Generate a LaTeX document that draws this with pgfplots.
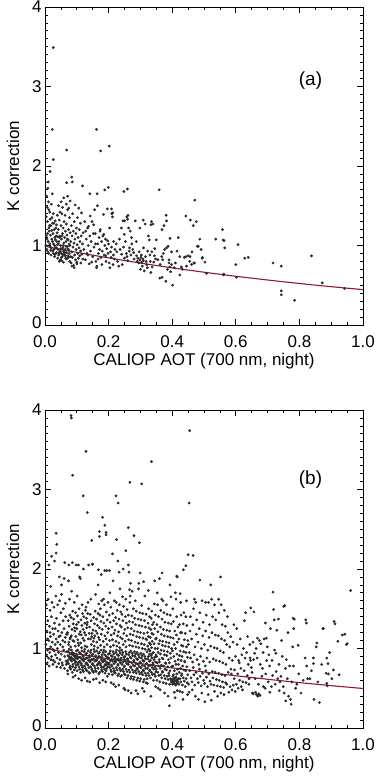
\documentclass[border=0pt]{standalone}
\usepackage{fontspec}
\setmainfont{Liberation Sans}
\usepackage{pgfplots}
\pgfplotsset{compat=1.18}

\definecolor{dots}{HTML}{2B2B2B}
\definecolor{fitred}{HTML}{8C1C2C}

\pgfplotsset{kplot/.style={
  scale only axis, width=318pt, height=318pt,
  xmin=0, xmax=1, ymin=0, ymax=4,
  xtick={0,0.2,0.4,0.6,0.8,1}, ytick={0,1,2,3,4},
  yticklabels={\raisebox{5pt}{0},1,2,3,\raisebox{-4pt}{4}},
  minor x tick num=3, minor y tick num=9,
  tick align=inside, major tick length=6pt, minor tick length=3pt,
  /pgf/number format/assume math mode=true,
  tick label style={font=\fontsize{17}{17}\selectfont},
  xticklabel style={anchor=center, yshift=-17pt, /pgf/number format/fixed, /pgf/number format/fixed zerofill, /pgf/number format/precision=1},
  every axis x label/.style={at={(axis description cs:0.5,0)}, yshift=-36pt, anchor=center, font=\fontsize{17}{17}\selectfont},
  every axis y label/.style={at={(axis description cs:0,0.5)}, xshift=-32pt, rotate=90, anchor=center, font=\fontsize{17}{17}\selectfont},
  xlabel={CALIOP AOT (700 nm, night)}, ylabel={K correction},
  axis line style={line width=0.8pt},
  every tick/.style={line width=0.7pt, black},
}}
\pgfplotsset{dotstyle/.style={only marks, mark=*, mark size=1.2pt, mark options={draw=dots, fill=dots}}}

\begin{document}
\begin{tikzpicture}
\useasboundingbox (0,0) rectangle (382pt,780pt);

% ---------- panel (a) ----------
\begin{axis}[kplot, at={(45pt,455pt)}, anchor=south west]
\addplot[dotstyle] coordinates {
(0.026,3.49)(0.023,2.46)(0.026,2.08)(0.068,2.20)(0.162,2.46)(0.175,2.19)(0.202,2.25)(0.010,1.80)(0.016,1.93)(0.084,1.86)(0.086,1.80)(0.068,1.79)(0.118,1.75)(0.141,1.65)(0.164,1.65)(0.188,1.70)(0.199,1.73)(0.248,1.68)(0.259,1.71)(0.359,1.70)(0.471,1.57)(0.209,1.46)(0.213,1.41)(0.261,1.38)(0.260,1.33)(0.250,1.31)(0.309,1.32)(0.335,1.30)(0.333,1.26)(0.382,1.31)(0.381,1.38)(0.374,1.25)(0.368,1.20)(0.298,1.22)(0.393,1.09)(0.419,1.10)(0.443,1.37)(0.457,1.32)(0.466,1.25)(0.476,1.30)(0.487,1.08)(0.482,0.99)(0.494,0.84)(0.450,0.87)(0.443,0.86)(0.424,0.86)(0.429,0.73)(0.424,0.63)(0.406,0.72)(0.398,0.76)(0.393,0.73)(0.390,0.78)(0.401,0.50)(0.380,0.55)(0.361,0.59)(0.382,0.97)(0.387,0.99)(0.398,0.92)(0.367,0.86)(0.370,0.82)(0.508,0.65)(0.537,1.08)(0.558,1.20)(0.560,1.07)(0.565,0.97)(0.562,0.64)(0.600,0.76)(0.602,0.60)(0.607,1.01)(0.628,0.84)(0.639,0.85)(0.717,0.78)(0.743,0.74)(0.743,0.43)(0.743,0.38)(0.785,0.31)(0.838,0.87)(0.872,0.53)(0.942,0.46)
(0.479,0.99)(0.491,0.95)(0.456,0.86)(0.495,0.85)(0.503,0.79)(0.461,0.76)(0.468,0.78)(0.561,0.63)(0.563,1.06)
(0.004,1.12)(0.006,0.95)(0.008,1.30)(0.010,1.05)(0.012,0.90)(0.013,1.18)(0.015,1.42)(0.016,0.98)(0.018,1.25)(0.019,0.88)(0.021,1.08)(0.022,1.35)(0.024,0.93)(0.025,1.15)(0.027,1.02)(0.028,1.28)(0.030,0.86)(0.031,1.10)(0.033,0.97)(0.034,1.22)(0.036,0.91)(0.037,1.05)(0.039,1.38)(0.040,0.84)
(0.005,1.62)(0.007,1.48)(0.009,1.72)(0.011,1.55)(0.014,1.25)(0.017,1.13)(0.020,1.52)(0.023,1.65)(0.026,1.40)(0.029,1.20)(0.032,1.31)(0.035,1.12)(0.038,1.16)
(0.003,1.00)(0.006,1.08)(0.009,0.92)(0.012,1.22)(0.015,1.02)(0.018,0.94)(0.021,1.19)(0.024,1.05)(0.027,0.90)(0.030,1.00)(0.033,1.07)(0.036,0.97)(0.039,1.01)
(0.004,1.36)(0.008,1.15)(0.012,1.45)(0.016,1.33)(0.020,0.97)(0.024,1.28)(0.028,0.95)(0.032,0.89)(0.036,1.26)(0.040,1.11)
(0.041,0.95)(0.042,1.20)(0.043,0.88)(0.044,1.05)(0.045,1.32)(0.046,0.92)(0.047,1.12)(0.048,0.82)(0.049,1.00)(0.050,1.25)(0.051,0.90)(0.052,1.08)(0.053,1.40)(0.054,0.86)(0.055,1.15)(0.056,0.97)(0.057,1.22)(0.058,0.93)(0.059,1.03)(0.060,1.30)(0.061,0.88)(0.062,1.10)(0.063,0.95)(0.064,1.18)(0.065,0.84)(0.066,1.05)(0.067,1.27)(0.068,0.91)(0.069,1.13)(0.070,0.99)(0.071,1.45)(0.072,0.87)(0.073,1.07)(0.074,1.20)(0.075,0.94)(0.076,1.02)(0.077,1.35)(0.078,0.80)(0.079,1.16)
(0.043,1.50)(0.047,1.42)(0.051,1.55)(0.055,1.48)(0.059,1.60)(0.063,1.38)(0.067,1.52)(0.071,1.62)(0.075,1.47)(0.079,1.56)
(0.042,1.02)(0.046,1.10)(0.050,0.96)(0.054,1.12)(0.058,1.00)(0.062,0.91)(0.066,0.99)(0.070,1.08)(0.074,0.85)(0.078,1.00)
(0.044,0.90)(0.048,0.93)(0.052,0.85)(0.056,0.89)(0.060,0.92)(0.064,0.87)(0.068,0.83)(0.072,0.96)(0.076,0.90)(0.080,0.86)
(0.081,1.05)(0.082,0.78)(0.083,1.25)(0.084,0.92)(0.085,1.12)(0.086,0.85)(0.087,1.40)(0.088,0.98)(0.089,1.18)(0.090,0.75)(0.091,1.03)(0.092,1.30)(0.093,0.88)(0.094,1.08)(0.095,1.51)(0.096,0.82)(0.097,1.15)(0.098,0.95)(0.099,1.22)(0.100,0.79)(0.101,1.01)(0.102,1.35)(0.103,0.90)(0.104,1.10)(0.105,0.84)(0.106,1.47)(0.107,0.97)(0.108,1.20)(0.109,0.87)(0.110,1.05)(0.111,1.28)(0.112,0.93)(0.113,0.78)(0.114,1.12)(0.115,1.41)(0.116,0.89)(0.118,1.02)(0.119,0.83)(0.120,1.16)
(0.045,0.80)(0.052,0.81)(0.058,0.79)(0.085,0.74)(0.092,0.72)(0.100,0.77)
(0.122,0.95)(0.125,1.30)(0.127,0.82)(0.130,1.08)(0.132,0.90)(0.134,1.22)(0.136,1.00)(0.137,1.24)(0.139,0.77)(0.141,1.12)(0.143,0.93)(0.145,1.05)(0.148,1.30)(0.150,0.86)(0.152,1.15)(0.154,0.98)(0.156,1.45)(0.158,1.15)(0.160,0.80)(0.162,0.72)(0.163,0.74)(0.165,1.50)(0.166,1.02)(0.168,0.90)(0.170,1.10)(0.172,0.95)(0.174,1.20)(0.176,0.85)(0.178,1.05)(0.180,0.93)(0.182,1.12)(0.184,1.39)(0.186,0.88)(0.188,1.00)(0.190,1.08)(0.192,0.80)(0.194,0.96)(0.196,1.46)(0.198,0.90)(0.200,1.02)(0.202,0.78)(0.204,0.72)(0.206,0.92)(0.208,0.85)(0.210,1.40)(0.212,1.36)(0.214,0.76)(0.216,1.05)(0.218,0.83)(0.220,0.95)
(0.128,1.18)(0.135,0.88)(0.142,1.37)(0.147,0.79)(0.153,1.26)(0.159,1.02)(0.167,0.83)(0.173,1.18)(0.179,0.76)(0.185,1.14)(0.191,0.87)(0.197,1.06)(0.203,1.22)(0.209,0.98)(0.215,0.88)
(0.224,1.02)(0.228,0.80)(0.232,0.74)(0.236,0.95)(0.240,1.22)(0.243,0.76)(0.245,1.31)(0.247,0.98)(0.250,0.84)(0.253,1.05)(0.256,0.90)(0.257,1.36)(0.260,0.81)(0.263,1.22)(0.266,0.97)(0.268,1.18)(0.270,0.88)(0.273,1.02)(0.276,0.95)(0.280,0.83)(0.284,1.31)(0.287,1.05)(0.290,0.80)(0.292,0.84)(0.295,0.78)(0.298,0.82)(0.300,0.70)(0.302,0.85)(0.304,0.79)(0.306,0.74)(0.308,0.83)(0.310,0.97)(0.312,0.68)(0.315,1.27)(0.318,0.80)(0.320,0.76)(0.322,0.72)(0.325,1.12)(0.328,1.07)(0.330,0.88)(0.333,0.66)(0.336,0.92)(0.339,1.27)(0.342,0.79)(0.345,0.96)(0.348,0.83)(0.350,1.07)
(0.226,0.92)(0.234,1.08)(0.241,0.89)(0.249,1.14)(0.258,0.86)(0.265,0.93)(0.272,1.10)(0.279,0.91)(0.288,0.87)(0.296,0.92)(0.303,0.88)(0.309,0.81)(0.316,0.86)(0.323,0.93)(0.331,0.80)(0.337,0.73)(0.344,0.87)
(0.355,0.82)(0.362,0.76)(0.368,0.60)(0.372,0.90)(0.376,0.95)(0.385,0.70)(0.390,0.82)(0.395,0.67)(0.410,0.78)(0.415,0.93)(0.432,0.70)(0.438,0.85)(0.445,0.74)(0.455,0.80)(0.462,0.92)(0.470,0.78)
};
\addplot[fitred, line width=1.1pt, smooth] coordinates {
(0,0.99)(0.1,0.914)(0.2,0.844)(0.3,0.779)(0.4,0.719)(0.5,0.664)(0.6,0.613)(0.7,0.566)(0.8,0.522)(0.9,0.482)(1.0,0.445)
};
\node[font=\fontsize{19}{19}\selectfont] at (axis cs:0.835,3.08) {(a)};
\end{axis}

% ---------- panel (b) ----------
\begin{axis}[kplot, at={(45pt,52pt)}, anchor=south west]
\addplot[dotstyle] coordinates {
(0.082,3.93)(0.083,3.90)(0.129,3.48)(0.087,3.18)(0.120,2.92)(0.133,2.71)(0.335,3.35)(0.455,3.74)(0.267,3.09)(0.304,3.07)(0.223,2.92)(0.230,2.83)(0.453,2.83)(0.181,2.65)(0.188,2.55)(0.192,2.46)(0.192,2.43)(0.171,2.47)(0.171,2.41)(0.147,2.36)(0.225,2.37)(0.262,2.52)(0.280,2.42)(0.297,2.33)(0.254,2.23)(0.212,2.19)(0.450,2.18)(0.466,2.17)(0.443,2.04)(0.414,1.91)(0.035,2.45)(0.037,2.31)(0.035,2.20)(0.021,2.16)(0.487,1.86)(0.521,1.80)(0.552,1.90)(0.961,1.73)(0.717,1.71)(0.751,1.53)(0.820,1.36)(0.822,1.32)(0.874,1.25)(0.935,1.17)(0.950,1.06)(0.921,1.09)(0.780,1.38)(0.782,1.25)
(0.003,1.05)(0.005,0.92)(0.006,1.22)(0.008,0.98)(0.009,1.35)(0.011,0.88)(0.012,1.10)(0.014,1.28)(0.015,0.95)(0.017,1.15)(0.018,1.02)(0.020,1.40)(0.021,0.90)(0.023,1.08)(0.024,1.25)(0.026,0.85)(0.027,1.18)(0.029,0.97)(0.030,1.32)(0.032,1.05)(0.033,0.92)(0.035,1.12)(0.036,1.38)(0.038,0.88)(0.039,1.00)(0.041,1.22)(0.042,0.95)(0.044,1.15)(0.045,1.30)(0.047,0.86)(0.048,1.05)(0.050,1.45)(0.051,0.93)(0.053,1.20)(0.054,0.82)(0.056,1.10)(0.057,1.35)(0.059,0.98)(0.060,1.25)(0.062,0.90)(0.063,1.08)(0.065,1.40)(0.066,0.84)(0.068,1.18)(0.069,0.96)
(0.004,1.55)(0.010,1.62)(0.016,1.48)(0.022,1.58)(0.028,1.52)(0.034,1.66)(0.040,1.55)(0.046,1.60)(0.052,1.68)(0.058,1.50)(0.064,1.57)
(0.007,0.82)(0.013,0.78)(0.019,0.86)(0.025,0.80)(0.031,0.83)(0.037,0.77)(0.043,0.81)(0.049,0.76)(0.055,0.79)(0.061,0.75)(0.067,0.80)
(0.008,1.12)(0.016,1.20)(0.024,0.99)(0.032,1.25)(0.040,1.08)(0.048,1.16)(0.056,1.02)(0.064,1.14)
(0.012,2.05)(0.030,2.10)(0.045,1.90)(0.060,1.88)(0.018,1.78)(0.052,1.80)
(0.071,0.72)(0.079,0.78)(0.074,0.81)(0.072,0.85)(0.077,0.88)(0.075,0.90)(0.078,0.93)(0.073,0.96)(0.076,0.99)(0.070,0.83)(0.078,0.76)(0.072,0.91)(0.074,1.05)(0.079,1.12)(0.071,1.20)(0.076,1.28)(0.073,1.35)(0.078,1.42)(0.075,1.08)(0.070,1.18)(0.077,1.62)(0.074,1.85)(0.072,0.68)
(0.081,0.74)(0.088,0.80)(0.084,0.84)(0.086,0.87)(0.082,0.89)(0.089,0.92)(0.085,0.95)(0.083,0.98)(0.087,0.77)(0.080,0.86)(0.086,0.70)(0.084,0.93)(0.081,1.02)(0.088,1.10)(0.083,1.16)(0.085,1.24)(0.089,1.31)(0.082,1.39)(0.087,1.47)(0.080,1.14)(0.086,2.08)(0.084,1.72)(0.088,0.64)
(0.092,0.73)(0.098,0.79)(0.095,0.82)(0.091,0.86)(0.097,0.88)(0.094,0.91)(0.090,0.94)(0.099,0.97)(0.093,0.85)(0.096,0.76)(0.092,0.90)(0.098,0.83)(0.095,1.03)(0.091,1.09)(0.097,1.15)(0.094,1.22)(0.099,1.30)(0.090,1.37)(0.096,1.45)(0.093,1.26)(0.098,2.05)(0.092,1.58)(0.095,0.66)
(0.101,0.72)(0.107,0.77)(0.104,0.80)(0.109,0.84)(0.102,0.87)(0.106,0.89)(0.100,0.92)(0.108,0.95)(0.103,0.98)(0.105,0.82)(0.109,0.74)(0.101,0.90)(0.106,1.04)(0.103,1.11)(0.108,1.18)(0.100,1.25)(0.105,1.33)(0.102,1.41)(0.107,1.50)(0.104,1.07)(0.109,1.90)(0.101,1.66)(0.106,0.62)
(0.112,0.70)(0.118,0.76)(0.115,0.79)(0.110,0.83)(0.117,0.86)(0.113,0.88)(0.119,0.91)(0.111,0.94)(0.116,0.97)(0.114,0.81)(0.118,0.73)(0.110,0.89)(0.115,1.01)(0.112,1.07)(0.119,1.13)(0.111,1.21)(0.116,1.29)(0.113,1.36)(0.118,1.44)(0.114,1.17)(0.117,1.55)(0.111,1.88)(0.115,0.60)
(0.121,0.71)(0.127,0.75)(0.124,0.78)(0.129,0.81)(0.122,0.84)(0.126,0.87)(0.120,0.90)(0.128,0.93)(0.123,0.96)(0.125,0.99)(0.129,0.73)(0.121,0.86)(0.126,1.03)(0.123,1.10)(0.128,1.17)(0.120,1.24)(0.125,1.32)(0.122,1.40)(0.127,1.48)(0.124,1.20)(0.129,1.52)(0.121,2.00)(0.126,0.63)
(0.132,0.72)(0.138,0.76)(0.135,0.79)(0.130,0.82)(0.137,0.85)(0.133,0.88)(0.139,0.91)(0.131,0.94)(0.136,0.97)(0.134,0.80)(0.138,0.70)(0.130,0.88)(0.132,1.02)(0.131,1.26)(0.133,1.33)(0.130,1.38)(0.134,1.44)(0.132,1.30)(0.136,1.12)(0.139,1.19)(0.135,1.58)(0.137,2.05)(0.133,0.59)
(0.141,0.69)(0.147,0.74)(0.144,0.77)(0.149,0.80)(0.142,0.83)(0.146,0.86)(0.140,0.89)(0.148,0.92)(0.143,0.95)(0.145,0.98)(0.149,0.72)(0.141,0.85)(0.146,1.05)(0.143,1.12)(0.148,1.19)(0.140,1.27)(0.145,1.35)(0.142,1.43)(0.147,1.15)(0.144,1.62)(0.149,2.06)(0.141,0.58)
(0.152,0.70)(0.158,0.75)(0.155,0.78)(0.150,0.81)(0.157,0.84)(0.153,0.87)(0.159,0.90)(0.151,0.93)(0.156,0.96)(0.154,0.99)(0.158,0.72)(0.150,0.86)(0.155,1.03)(0.152,1.09)(0.157,1.16)(0.151,1.23)(0.156,1.31)(0.153,1.39)(0.158,1.47)(0.154,1.13)(0.159,1.68)(0.152,0.61)
(0.161,0.71)(0.167,0.75)(0.164,0.79)(0.169,0.82)(0.162,0.85)(0.166,0.88)(0.160,0.91)(0.168,0.94)(0.163,0.97)(0.165,0.80)(0.169,0.68)(0.161,0.86)(0.166,1.01)(0.163,1.08)(0.168,1.14)(0.160,1.22)(0.165,1.29)(0.162,1.37)(0.167,1.44)(0.164,1.19)(0.169,1.56)(0.161,0.62)(0.167,1.80)
(0.172,0.70)(0.178,0.76)(0.175,0.79)(0.170,0.83)(0.177,0.86)(0.173,0.89)(0.179,0.92)(0.171,0.95)(0.176,0.98)(0.174,0.81)(0.178,0.73)(0.170,0.90)(0.175,1.04)(0.172,1.11)(0.177,1.18)(0.171,1.26)(0.176,1.34)(0.173,1.42)(0.178,1.60)(0.174,1.50)(0.172,0.57)(0.177,1.93)
(0.181,0.71)(0.187,0.74)(0.184,0.77)(0.189,0.80)(0.182,0.83)(0.186,0.86)(0.180,0.89)(0.188,0.92)(0.183,0.95)(0.185,0.98)(0.189,0.69)(0.181,0.84)(0.186,1.02)(0.183,1.09)(0.188,1.16)(0.180,1.24)(0.185,1.32)(0.182,1.40)(0.187,1.55)(0.184,1.62)(0.188,1.98)(0.182,0.60)
(0.192,0.72)(0.198,0.77)(0.195,0.80)(0.190,0.84)(0.197,0.87)(0.193,0.90)(0.199,0.93)(0.191,0.96)(0.196,0.82)(0.194,0.75)(0.198,0.88)(0.190,0.79)(0.195,1.05)(0.192,1.12)(0.197,1.20)(0.191,1.28)(0.196,1.36)(0.193,1.46)(0.198,1.58)(0.194,1.98)(0.191,0.58)(0.196,0.65)
(0.201,0.68)(0.207,0.73)(0.204,0.76)(0.209,0.79)(0.202,0.82)(0.206,0.85)(0.200,0.88)(0.208,0.91)(0.203,0.94)(0.205,0.97)(0.209,0.71)(0.201,0.80)(0.206,1.02)(0.203,1.10)(0.208,1.17)(0.200,1.25)(0.205,1.33)(0.202,1.42)(0.207,1.52)(0.204,1.70)(0.208,0.57)
(0.212,0.67)(0.218,0.72)(0.215,0.75)(0.210,0.78)(0.217,0.81)(0.213,0.84)(0.219,0.87)(0.211,0.90)(0.216,0.93)(0.214,0.96)(0.218,0.70)(0.210,0.86)(0.215,1.04)(0.212,1.11)(0.217,1.19)(0.211,1.27)(0.216,1.35)(0.213,1.44)(0.218,1.60)(0.214,1.85)(0.216,0.55)
(0.221,0.69)(0.227,0.73)(0.224,0.76)(0.229,0.80)(0.222,0.83)(0.226,0.86)(0.220,0.89)(0.228,0.92)(0.223,0.95)(0.225,0.98)(0.229,0.66)(0.221,0.84)(0.226,1.03)(0.223,1.09)(0.228,1.16)(0.220,1.23)(0.225,1.31)(0.222,1.39)(0.227,1.48)(0.224,1.58)(0.229,2.10)(0.222,0.52)
(0.232,0.68)(0.238,0.72)(0.235,0.75)(0.230,0.79)(0.237,0.82)(0.233,0.85)(0.239,0.88)(0.231,0.91)(0.236,0.94)(0.234,0.97)(0.238,0.65)(0.230,0.87)(0.235,1.01)(0.232,1.07)(0.237,1.14)(0.231,1.21)(0.236,1.29)(0.233,1.37)(0.238,1.46)(0.234,1.55)(0.236,1.75)(0.232,0.54)
(0.241,0.66)(0.247,0.71)(0.244,0.74)(0.249,0.77)(0.242,0.80)(0.246,0.83)(0.240,0.86)(0.248,0.89)(0.243,0.92)(0.245,0.95)(0.249,0.68)(0.241,0.98)(0.246,1.05)(0.243,1.12)(0.248,1.19)(0.240,1.27)(0.245,1.35)(0.242,1.43)(0.247,1.53)(0.244,1.65)(0.248,0.50)(0.246,2.00)
(0.252,0.67)(0.258,0.71)(0.255,0.74)(0.250,0.78)(0.257,0.81)(0.253,0.84)(0.259,0.87)(0.251,0.90)(0.256,0.93)(0.254,0.96)(0.258,0.63)(0.250,0.86)(0.255,1.02)(0.252,1.09)(0.257,1.16)(0.251,1.24)(0.256,1.32)(0.253,1.40)(0.258,1.49)(0.254,1.62)(0.252,0.48)
(0.261,0.66)(0.267,0.70)(0.264,0.73)(0.269,0.77)(0.262,0.80)(0.266,0.83)(0.260,0.86)(0.268,0.89)(0.263,0.92)(0.265,0.95)(0.269,0.62)(0.261,0.84)(0.266,1.04)(0.263,1.11)(0.268,1.18)(0.260,1.26)(0.265,1.34)(0.262,1.42)(0.267,1.58)(0.268,1.66)(0.266,1.74)(0.269,1.82)(0.264,1.96)(0.262,0.47)
(0.272,0.65)(0.278,0.70)(0.275,0.73)(0.270,0.76)(0.277,0.79)(0.273,0.82)(0.279,0.85)(0.271,0.88)(0.276,0.91)(0.274,0.94)(0.278,0.61)(0.270,0.97)(0.275,1.03)(0.272,1.10)(0.277,1.17)(0.271,1.25)(0.276,1.33)(0.273,1.41)(0.278,1.50)(0.274,1.72)(0.271,0.44)
(0.281,0.64)(0.287,0.69)(0.284,0.72)(0.289,0.75)(0.282,0.78)(0.286,0.81)(0.280,0.84)(0.288,0.87)(0.283,0.90)(0.285,0.93)(0.289,0.60)(0.281,0.96)(0.286,1.02)(0.283,1.08)(0.288,1.15)(0.280,1.22)(0.285,1.30)(0.282,1.38)(0.287,1.47)(0.284,1.60)(0.286,0.47)
(0.292,0.63)(0.298,0.68)(0.295,0.71)(0.290,0.74)(0.297,0.77)(0.293,0.80)(0.299,0.83)(0.291,0.86)(0.296,0.89)(0.294,0.92)(0.298,0.59)(0.290,0.95)(0.295,1.01)(0.292,1.07)(0.297,1.14)(0.291,1.21)(0.296,1.29)(0.293,1.37)(0.298,1.45)(0.294,1.75)(0.292,0.43)(0.299,1.95)
(0.301,0.62)(0.307,0.67)(0.304,0.70)(0.309,0.73)(0.302,0.76)(0.306,0.79)(0.300,0.82)(0.308,0.85)(0.303,0.88)(0.305,0.91)(0.309,0.58)(0.301,0.94)(0.306,1.00)(0.303,1.06)(0.308,1.13)(0.300,1.20)(0.305,1.28)(0.302,1.36)(0.307,1.44)(0.304,1.54)(0.306,0.50)
(0.312,0.61)(0.318,0.66)(0.315,0.69)(0.310,0.72)(0.317,0.75)(0.313,0.78)(0.319,0.81)(0.311,0.84)(0.316,0.87)(0.314,0.90)(0.318,0.57)(0.310,0.93)(0.315,0.99)(0.312,1.05)(0.317,1.12)(0.311,1.19)(0.316,1.27)(0.313,1.35)(0.318,1.43)(0.314,1.66)(0.312,0.46)
(0.321,0.62)(0.327,0.66)(0.324,0.69)(0.329,0.72)(0.322,0.75)(0.326,0.78)(0.320,0.81)(0.328,0.84)(0.323,0.87)(0.325,0.90)(0.329,0.93)(0.321,0.96)(0.326,0.99)(0.323,1.03)(0.328,1.07)(0.320,1.11)(0.325,1.15)(0.322,1.20)(0.327,1.26)(0.324,1.32)(0.329,1.40)(0.326,1.50)(0.322,0.56)
(0.332,0.63)(0.338,0.67)(0.335,0.70)(0.330,0.73)(0.337,0.76)(0.333,0.79)(0.339,0.82)(0.331,0.85)(0.336,0.88)(0.334,0.91)(0.338,0.94)(0.330,0.97)(0.335,1.01)(0.332,1.05)(0.337,1.09)(0.331,1.14)(0.336,1.19)(0.333,1.24)(0.338,1.30)(0.334,1.38)(0.336,1.47)(0.333,0.40)
(0.341,0.60)(0.347,0.65)(0.344,0.68)(0.349,0.71)(0.342,0.74)(0.346,0.77)(0.340,0.80)(0.348,0.83)(0.343,0.86)(0.345,0.89)(0.349,0.92)(0.341,0.95)(0.346,1.00)(0.343,1.06)(0.348,1.12)(0.340,1.18)(0.345,1.25)(0.342,1.33)(0.347,1.42)(0.344,1.56)(0.348,0.52)
(0.352,0.60)(0.358,0.66)(0.355,0.70)(0.350,0.74)(0.357,0.78)(0.353,0.82)(0.359,0.86)(0.351,0.90)(0.356,0.95)(0.354,1.00)(0.358,1.06)(0.350,1.13)(0.355,1.21)(0.352,1.30)(0.357,1.40)(0.354,1.55)(0.356,0.50)(0.353,1.70)
(0.361,0.58)(0.367,0.63)(0.364,0.67)(0.369,0.71)(0.362,0.75)(0.366,0.79)(0.360,0.83)(0.368,0.88)(0.363,0.93)(0.365,0.98)(0.369,1.04)(0.361,1.10)(0.366,1.18)(0.363,1.27)(0.368,1.37)(0.364,1.48)(0.362,0.48)(0.367,1.62)
(0.372,0.57)(0.378,0.62)(0.375,0.66)(0.370,0.70)(0.377,0.74)(0.373,0.78)(0.379,0.82)(0.371,0.87)(0.376,0.92)(0.374,0.97)(0.378,1.03)(0.370,1.09)(0.375,1.16)(0.372,1.24)(0.377,1.33)(0.374,1.45)(0.376,0.44)(0.371,1.60)
(0.381,0.56)(0.387,0.61)(0.384,0.65)(0.389,0.69)(0.382,0.73)(0.386,0.77)(0.380,0.81)(0.388,0.86)(0.383,0.91)(0.385,0.96)(0.389,1.02)(0.381,1.08)(0.386,1.15)(0.383,1.23)(0.388,1.32)(0.384,1.43)(0.387,0.40)(0.382,1.55)
(0.392,0.55)(0.398,0.58)(0.395,0.62)(0.390,0.66)(0.397,0.60)(0.393,0.72)(0.399,0.77)(0.391,0.82)(0.396,0.88)(0.394,0.94)(0.398,1.00)(0.390,1.07)(0.395,1.14)(0.392,1.22)(0.397,1.31)(0.394,1.42)(0.391,0.28)(0.396,1.65)
(0.401,0.55)(0.404,0.57)(0.407,0.59)(0.403,0.61)(0.409,0.63)(0.402,0.65)(0.406,0.60)(0.408,0.56)(0.405,0.62)(0.400,0.58)(0.404,0.67)(0.407,0.72)(0.402,0.78)(0.409,0.84)(0.405,0.90)(0.401,0.97)(0.406,1.05)(0.403,1.13)(0.408,1.22)(0.404,1.34)(0.407,0.45)(0.402,1.50)(0.409,0.38)
(0.411,0.54)(0.414,0.56)(0.417,0.58)(0.413,0.60)(0.419,0.62)(0.412,0.64)(0.416,0.57)(0.418,0.61)(0.415,0.59)(0.410,0.63)(0.414,0.68)(0.417,0.74)(0.412,0.80)(0.419,0.86)(0.415,0.93)(0.411,1.00)(0.416,1.08)(0.413,1.17)(0.418,1.27)(0.414,1.40)(0.416,0.47)(0.412,1.62)
(0.421,0.55)(0.427,0.58)(0.424,0.62)(0.429,0.66)(0.422,0.70)(0.426,0.75)(0.420,0.80)(0.428,0.85)(0.423,0.91)(0.425,0.97)(0.429,1.04)(0.421,1.12)(0.426,1.20)(0.423,1.30)(0.428,1.42)(0.424,0.46)(0.427,1.58)
(0.432,0.54)(0.438,0.59)(0.435,0.63)(0.430,0.68)(0.437,0.73)(0.433,0.78)(0.439,0.84)(0.431,0.90)(0.436,0.96)(0.434,1.03)(0.438,1.11)(0.430,1.20)(0.435,1.31)(0.432,0.45)(0.437,1.45)(0.434,0.36)
(0.441,0.52)(0.447,0.57)(0.444,0.62)(0.449,0.67)(0.442,0.72)(0.446,0.77)(0.440,0.83)(0.448,0.89)(0.443,0.95)(0.445,1.02)(0.449,1.10)(0.441,1.19)(0.446,1.29)(0.443,1.40)(0.448,0.42)(0.445,1.60)
(0.452,0.55)(0.455,0.72)(0.458,0.88)(0.451,1.05)(0.456,1.22)(0.459,0.63)(0.453,0.45)(0.457,1.40)(0.454,0.95)
(0.462,0.58)(0.466,0.76)(0.469,0.92)(0.461,1.12)(0.465,1.30)(0.468,0.67)(0.463,0.48)(0.467,1.50)(0.464,0.83)
(0.471,0.54)(0.475,0.70)(0.478,0.86)(0.472,1.02)(0.476,1.18)(0.479,0.62)(0.473,0.40)(0.477,1.36)(0.474,1.58)
(0.482,0.57)(0.486,0.74)(0.489,0.90)(0.481,1.08)(0.485,1.25)(0.488,0.65)(0.483,0.36)(0.487,1.45)(0.484,0.80)
(0.491,0.53)(0.495,0.69)(0.498,0.84)(0.492,1.00)(0.496,1.16)(0.499,0.60)(0.493,0.44)(0.497,1.33)(0.494,1.60)
(0.502,0.56)(0.506,0.72)(0.509,0.88)(0.501,1.05)(0.505,1.22)(0.508,0.64)(0.503,0.33)(0.507,1.42)(0.504,0.78)
(0.511,0.52)(0.515,0.68)(0.518,0.83)(0.512,0.98)(0.516,1.14)(0.519,0.59)(0.513,0.42)(0.517,1.30)(0.514,1.58)
(0.522,0.55)(0.526,0.71)(0.529,0.87)(0.521,1.03)(0.525,1.20)(0.528,0.63)(0.523,0.35)(0.527,1.40)(0.524,1.62)
(0.531,0.54)(0.535,0.70)(0.538,0.85)(0.532,1.01)(0.536,1.17)(0.539,0.61)(0.533,0.46)(0.537,1.36)
(0.542,0.53)(0.546,0.69)(0.549,0.84)(0.541,1.00)(0.545,1.16)(0.548,0.60)(0.543,0.40)(0.547,1.45)
(0.552,0.52)(0.556,0.67)(0.559,0.82)(0.551,0.97)(0.555,1.12)(0.558,0.58)(0.553,0.44)(0.557,1.30)(0.554,1.55)
(0.562,0.51)(0.566,0.66)(0.569,0.80)(0.561,0.95)(0.565,1.10)(0.568,0.57)(0.563,0.42)(0.567,1.28)(0.564,1.48)
(0.572,0.55)(0.576,0.70)(0.579,0.88)(0.571,1.05)(0.575,1.20)(0.578,0.45)(0.574,1.40)
(0.582,0.52)(0.586,0.68)(0.589,0.85)(0.581,1.02)(0.585,0.74)(0.588,0.48)(0.584,1.15)
(0.592,0.54)(0.596,0.73)(0.599,0.90)(0.591,1.08)(0.595,0.62)(0.598,0.46)(0.594,1.30)
(0.602,0.55)(0.606,0.68)(0.609,0.85)(0.604,1.05)(0.607,0.50)(0.603,1.25)
(0.612,0.60)(0.616,0.75)(0.619,0.92)(0.614,1.12)(0.617,0.52)(0.611,0.82)
(0.622,0.58)(0.626,0.72)(0.629,0.88)(0.624,1.00)(0.627,1.35)(0.621,0.48)
(0.632,0.57)(0.636,0.66)(0.639,0.80)(0.634,0.95)(0.637,1.15)(0.631,1.45)
(0.642,0.62)(0.646,0.85)(0.649,0.76)(0.644,1.05)(0.647,1.51)(0.641,0.55)(0.645,0.88)
(0.652,0.44)(0.656,0.86)(0.659,0.94)(0.654,1.08)(0.657,1.46)(0.651,0.70)(0.655,0.43)
(0.662,0.45)(0.665,0.42)(0.668,1.13)(0.664,1.00)(0.667,0.88)(0.661,0.62)(0.669,0.40)
(0.672,0.43)(0.676,0.41)(0.679,1.06)(0.674,1.10)(0.677,0.80)(0.671,0.55)
(0.682,0.65)(0.686,0.95)(0.689,1.12)(0.684,0.75)(0.687,0.52)
(0.692,0.50)(0.696,1.13)(0.699,1.02)(0.694,0.68)(0.697,0.85)(0.693,1.32)
(0.702,0.58)(0.706,0.78)(0.709,1.25)(0.704,0.92)(0.707,0.45)
(0.712,0.52)(0.716,0.66)(0.719,1.49)(0.714,0.85)
(0.722,0.98)(0.726,0.94)(0.729,1.23)(0.724,0.55)(0.727,0.71)(0.721,1.36)
(0.732,0.62)(0.736,0.80)(0.739,0.58)(0.734,1.37)(0.737,0.47)
(0.742,0.65)(0.746,0.90)(0.749,0.52)(0.744,1.10)
(0.752,0.44)(0.756,0.75)(0.759,0.86)(0.754,1.54)(0.757,0.34)
(0.762,0.62)(0.766,0.40)(0.769,0.78)(0.764,1.20)
(0.772,0.36)(0.776,0.58)(0.779,1.02)(0.774,0.30)(0.781,0.78)(0.784,1.37)(0.788,0.50)(0.792,0.55)(0.796,1.04)(0.798,0.68)
(0.805,0.44)(0.812,0.60)(0.818,0.88)(0.823,0.78)(0.826,0.62)(0.833,0.62)(0.838,0.72)(0.844,0.88)(0.844,0.81)(0.846,0.36)(0.853,1.02)(0.855,1.07)(0.858,0.58)(0.863,0.32)(0.870,0.80)(0.875,1.25)(0.884,0.69)(0.886,0.88)(0.886,0.56)(0.888,0.53)(0.890,0.81)(0.891,0.68)(0.895,0.95)(0.902,0.62)(0.907,0.73)(0.909,1.34)(0.912,1.31)(0.925,0.67)(0.943,1.18)(0.948,1.05)
(0.062,2.08)(0.075,2.05)(0.105,2.05)(0.150,2.06)(0.168,1.99)(0.203,1.98)(0.233,1.96)(0.262,2.05)(0.295,1.82)(0.310,1.84)(0.325,1.73)(0.345,1.85)(0.360,1.88)(0.368,1.95)(0.393,1.80)(0.410,1.70)(0.425,1.69)(0.435,1.99)(0.416,1.90)(0.470,1.62)(0.505,1.58)(0.533,1.55)(0.546,1.62)
};
\addplot[fitred, line width=1.1pt, smooth] coordinates {
(0,1.0)(0.1,0.932)(0.2,0.869)(0.3,0.811)(0.4,0.756)(0.5,0.705)(0.6,0.657)(0.7,0.613)(0.8,0.571)(0.9,0.533)(1.0,0.497)
};
\node[font=\fontsize{19}{19}\selectfont] at (axis cs:0.835,3.12) {(b)};
\end{axis}
\end{tikzpicture}
\end{document}
